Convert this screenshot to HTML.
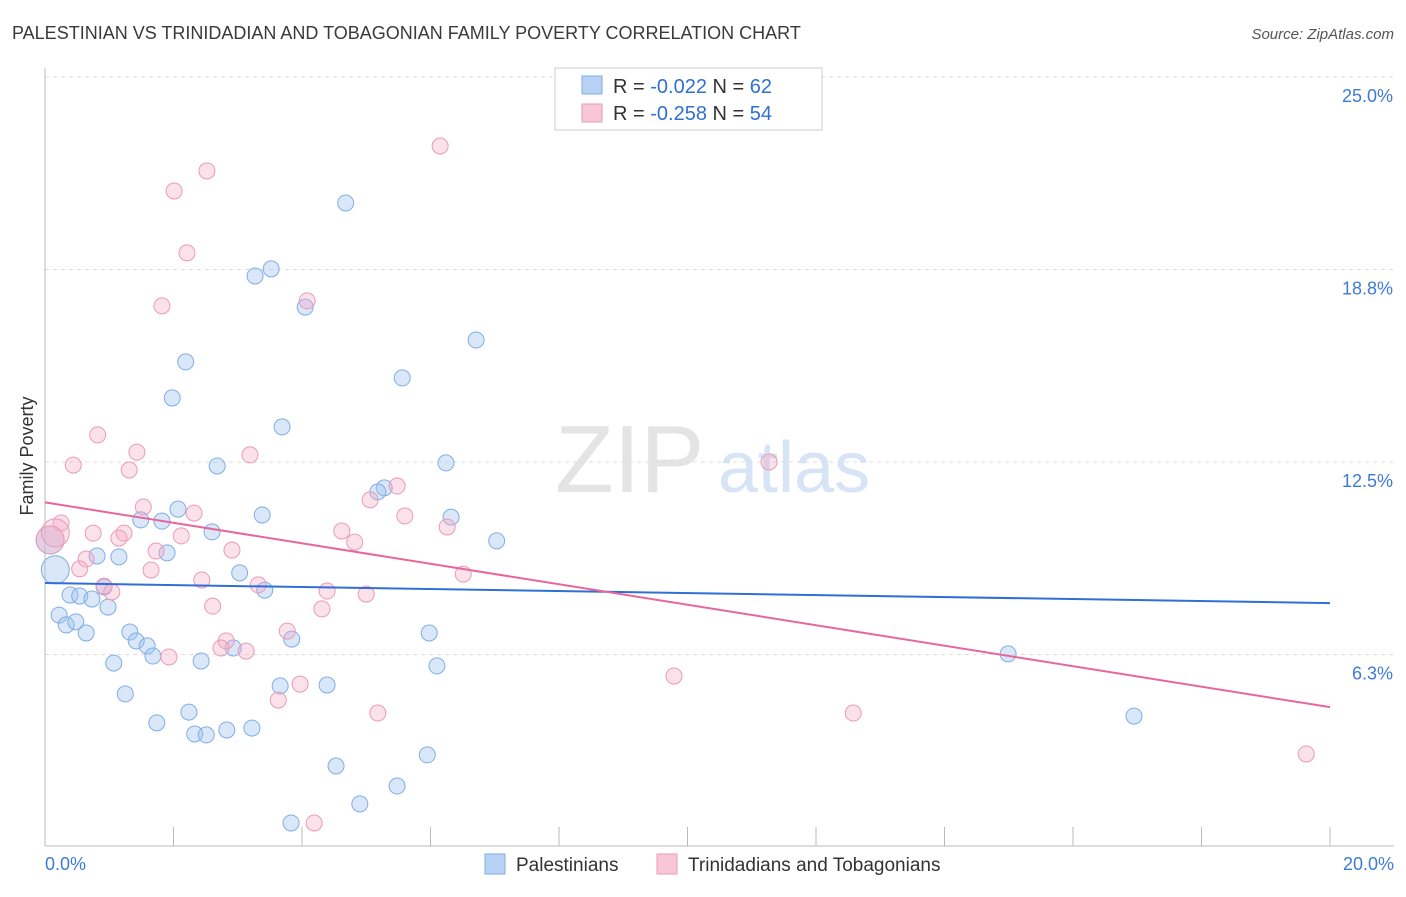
<!DOCTYPE html>
<html><head><meta charset="utf-8"><style>
body{margin:0;background:#fff;font-family:"Liberation Sans",sans-serif;}
svg text{font-family:"Liberation Sans",sans-serif;}
</style></head><body>
<svg id="c" width="1406" height="892" xmlns="http://www.w3.org/2000/svg">
<text x="12" y="39" font-size="18" fill="#3a3a3a">PALESTINIAN VS TRINIDADIAN AND TOBAGONIAN FAMILY POVERTY CORRELATION CHART</text>
<text x="1394" y="39" font-size="15" fill="#555" font-style="italic" text-anchor="end">Source: ZipAtlas.com</text>
<text x="33" y="456" font-size="18" fill="#333" transform="rotate(-90 33 456)" text-anchor="middle">Family Poverty</text>
<g><text x="555" y="492" font-size="96" fill="#e4e4e4" font-family="Liberation Serif,serif">ZIP</text><text x="718" y="492" font-size="72" fill="#d6e4f5">atlas</text></g>
<g id="grid"></g><g id="pts"></g><g id="lines"></g>
<g>
<rect x="555" y="68" width="267" height="62" fill="#fff" stroke="#ccc"/>
<rect x="582" y="76" width="20" height="18" fill="#b7d2f5" stroke="#7faee6"/>
<rect x="582" y="104" width="20" height="18" fill="#f8c7d7" stroke="#eb9ab8"/>
<text x="613" y="93" font-size="20" fill="#333">R = <tspan fill="#2f6fd6">-0.022</tspan>    N = <tspan fill="#2f6fd6">62</tspan></text>
<text x="613" y="120" font-size="20" fill="#333">R = <tspan fill="#2f6fd6">-0.258</tspan>    N = <tspan fill="#2f6fd6">54</tspan></text>
</g>
<g>
<rect x="485" y="854" width="20" height="20" fill="#b7d2f5" stroke="#7faee6"/>
<text x="516" y="871" font-size="19" fill="#333">Palestinians</text>
<rect x="657" y="854" width="20" height="20" fill="#f8c7d7" stroke="#eb9ab8"/>
<text x="688" y="871" font-size="19" fill="#333">Trinidadians and Tobagonians</text>
</g>
</svg>
<script>
const yTicks=[25,18.75,12.5,6.25];
const yTickLabels=["25.0%","18.8%","12.5%","6.3%"];
const xTickLabels=["0.0%","20.0%"];
const blueX=[.08,.16,4.68,3.27,3.52,4.05,6.71,2.19,5.56,1.98,3.69,2.68,6.24,5.28,5.18,2.07,3.38,6.32,1.49,1.82,2.60,7.03,.81,1.15,1.90,3.03,3.42,.92,.39,.54,.73,.98,.22,.33,.48,.64,1.32,1.42,1.59,1.68,5.98,3.84,2.93,1.07,2.43,6.10,1.25,3.66,4.39,2.24,1.74,2.33,2.51,2.83,3.22,14.99,16.95,4.53,5.95,5.48,4.90,3.83];
const blueY=[9.97,9.00,20.91,18.54,18.77,17.53,16.46,15.75,15.23,14.58,13.64,12.37,12.47,11.66,11.53,10.97,10.78,10.71,10.62,10.58,10.23,9.94,9.45,9.42,9.55,8.90,8.34,8.44,8.18,8.15,8.05,7.79,7.53,7.21,7.31,6.95,6.98,6.69,6.53,6.20,6.95,6.75,6.46,5.97,6.04,5.88,4.97,5.23,5.26,4.38,4.03,3.67,3.64,3.80,3.86,6.27,4.25,2.63,2.99,1.98,1.40,.78];
const pinkX=[6.15,2.52,2.01,2.21,1.82,4.08,.82,1.43,.44,1.31,3.19,11.27,5.48,5.06,1.53,2.32,5.60,.25,6.26,.75,1.23,1.15,2.12,4.62,4.82,2.91,1.73,.64,.54,1.65,6.51,2.44,.92,1.04,3.32,4.39,5.00,2.61,4.31,3.77,2.82,2.74,3.13,1.93,9.79,3.97,3.63,5.18,12.58,19.63,4.19,.08,.16];
const pinkY=[22.76,21.95,21.30,19.29,17.57,17.73,13.38,12.82,12.40,12.24,12.73,12.50,11.72,11.27,11.04,10.84,10.75,10.52,10.39,10.19,10.19,10.03,10.10,10.26,9.90,9.64,9.61,9.35,9.03,8.99,8.86,8.67,8.47,8.28,8.51,8.31,8.21,7.82,7.73,7.01,6.69,6.46,6.36,6.17,5.55,5.29,4.77,4.35,4.35,3.02,.78,9.97,10.2];
const blueTrend=[8.57,7.92];
const pinkTrend=[11.19,4.54];
const NS="http://www.w3.org/2000/svg";
const X=v=>45+v/20*1285, Y=v=>847-v/6.25*192.5;
function mk(t,a,p){const e=document.createElementNS(NS,t);for(const k in a)e.setAttribute(k,a[k]);p.appendChild(e);return e;}
const g=document.getElementById('grid');
yTicks.forEach((t,i)=>{
 const l=mk('line',{x1:45,x2:1394,y1:Y(t),y2:Y(t),stroke:'#ddd','stroke-dasharray':'4 4'},g);
 
 
 const tx=mk('text',{x:1393,y:Y(t)+25,'font-size':18,fill:'#3d7bd8','text-anchor':'end'},g);tx.textContent=yTickLabels[i];
 
 
});
const ax=mk('line',{x1:45,x2:1394,y1:846,y2:846,stroke:'#bbb'},g);


const ay=mk('line',{x1:45,x2:45,y1:68,y2:846,stroke:'#bbb'},g);


for(let i=1;i<=10;i++){const t=mk('line',{x1:X(i*2),x2:X(i*2),y1:827,y2:846,stroke:'#bbb'},g);
 
 }
[[0,'start',45],[20,'end',1394]].forEach((d,i)=>{const t=mk('text',{x:d[2],y:870,'font-size':18,fill:'#3d7bd8','text-anchor':d[1]},g);t.textContent=xTickLabels[i];
 
 });
const p=document.getElementById('pts');
function pts(xs,ys,fill,st,name){xs.forEach((x,i)=>{const big=x<0.2&&Math.abs(ys[i]-10)<1.2;
 const c=mk('circle',{cx:X(x),cy:Y(ys[i]),r:big?14:8,fill:fill,stroke:st,'stroke-width':1},p);
 
 });}
pts(blueX,blueY,'rgba(160,196,240,0.4)','#7faee6','palestinian-point');
pts(pinkX,pinkY,'rgba(244,170,196,0.35)','#eb9ab8','trinidadian-point');
const L=document.getElementById('lines');
const bl=mk('line',{x1:X(0),y1:Y(blueTrend[0]),x2:X(20),y2:Y(blueTrend[1]),stroke:'#2f6fd6','stroke-width':2},L);


const pl=mk('line',{x1:X(0),y1:Y(pinkTrend[0]),x2:X(20),y2:Y(pinkTrend[1]),stroke:'#e8679a','stroke-width':2},L);


</script>
</body></html>
